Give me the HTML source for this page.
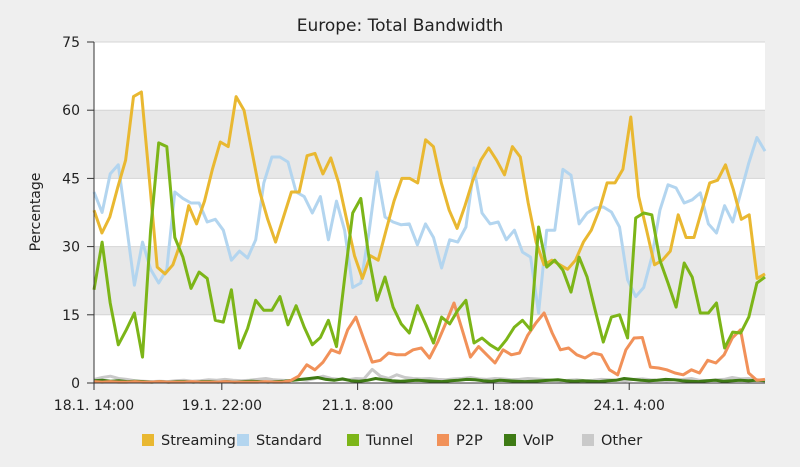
<!DOCTYPE html>
<html><head><meta charset="utf-8"><style>
body{margin:0;background:#efefef;width:800px;height:467px;overflow:hidden;font-family:"DejaVu Sans","Liberation Sans",sans-serif;}
svg{display:block}
</style></head><body>
<svg id="chart" width="800" height="467" xmlns="http://www.w3.org/2000/svg">
<rect x="0" y="0" width="800" height="467" fill="#efefef"/>
<text x="400" y="31" text-anchor="middle" font-size="17" fill="#222">Europe: Total Bandwidth</text>
<text transform="translate(40,212) rotate(-90)" text-anchor="middle" font-size="14" fill="#222">Percentage</text>
<g id="plot"></g>
<g id="legend"></g>
</svg>
<script>
const yTicks=[0,15,30,45,60,75];
const xTickLabels=["18.1. 14:00","19.1. 22:00","21.1. 8:00","22.1. 18:00","24.1. 4:00"];
const xTickHours=[0,32,66,100,134];
const totalHours=168;
const seriesNames=["Streaming","Standard","Tunnel","P2P","VoIP","Other"];
const streaming=[38,33,36.5,43,49,63,64,45,25.5,24,26,31,39,35,40,47,53,52,63,60,51,42,36,31,36.5,42,42,50,50.5,46,49.5,44,36,28,23,28,27,33.6,40,45,45,44,53.5,52,44,38,34,39,44.6,49,51.7,49,45.8,52,49.7,39.6,31,26,27,26,25,27,31,33.6,38,44,44,47,58.5,41,33.6,26,27,29,37,32,32,38,44,44.6,48,42.5,36,37,23,24];
const standard=[42,37.5,46,48,35,21.5,31,25,22,25,42,40.6,39.6,39.6,35.4,36,33.6,27,29,27.5,31.5,44,49.7,49.7,48.6,42,41,37.4,41,31.5,40,33.6,21,22,33,46.4,36.5,35.4,34.8,35,30.4,35,32,25.3,31.5,31,34.3,47.3,37.4,35,35.4,31.5,33.6,28.8,27.7,15.4,33.6,33.6,47,45.7,35,37.4,38.5,38.7,37.6,34.3,22.7,19,21,27.7,38,43.6,42.9,39.6,40.3,41.8,35,33,39,35.4,41.8,48.4,54,51];
const tunnel=[20.5,31,17.6,8.4,11.7,15.4,5.7,33.6,52.8,52,32,27.7,20.8,24.4,23,13.8,13.4,20.5,7.7,12,18.2,16,16,19,12.8,17,12.3,8.4,10,13.8,8,23,37.4,40.6,27.7,18.2,23.3,16.7,13,11,17,13,8.8,14.5,13,16,18.2,8.8,9.9,8.4,7.3,9.5,12.3,13.8,11.7,34.3,25.5,27,24.8,20,27.7,23.3,16,9,14.5,15,9.9,36.3,37.4,37,27,22,16.7,26.4,23.3,15.4,15.4,17.6,7.7,11.2,11,14.5,22,23.3];
const p2p=[0.3,0.2,0.3,0.2,0.2,0.3,0.2,0.2,0.3,0.2,0.2,0.2,0.3,0.2,0.2,0.2,0.3,0.2,0.2,0.2,0.2,0.3,0.2,0.2,0.5,1.5,4,2.9,4.6,7.3,6.6,11.7,14.5,9.5,4.6,5,6.6,6.2,6.2,7.3,7.7,5.5,9,13.2,17.6,11.7,5.7,8,6.2,4.4,7.3,6.2,6.6,10.5,13.2,15.4,11,7.3,7.7,6.2,5.5,6.6,6.2,2.9,1.8,7.3,9.9,10,3.5,3.3,2.9,2.2,1.8,2.9,2.2,5,4.4,6.2,9.9,11.7,2.2,0.6,0.8];
const voip=[0.5,0.6,0.4,0.5,0.3,0.4,0.3,0.2,0.3,0.2,0.3,0.3,0.2,0.3,0.3,0.2,0.3,0.2,0.3,0.4,0.3,0.2,0.3,0.4,0.6,0.8,1,1.2,0.8,0.6,0.9,0.5,0.4,0.6,1,0.7,0.5,0.4,0.5,0.6,0.5,0.4,0.3,0.5,0.6,0.8,0.7,0.5,0.4,0.6,0.5,0.4,0.3,0.4,0.5,0.6,0.7,0.5,0.4,0.5,0.4,0.3,0.5,0.6,1,0.8,0.6,0.5,0.6,0.8,0.7,0.5,0.4,0.3,0.5,0.6,0.4,0.5,0.6,0.5,0.6,0.5];
const other=[0.8,1.2,1.5,1,0.8,0.5,0.4,0.3,0.4,0.3,0.5,0.6,0.4,0.5,0.7,0.6,0.8,0.6,0.5,0.6,0.8,1,0.7,0.6,0.5,0.8,0.6,1,1.5,1,0.8,0.7,1,0.9,3,1.5,1,1.8,1.2,1,0.9,1,0.8,0.7,0.9,1,1.2,0.9,0.8,1,0.9,0.7,0.8,1,0.9,0.8,0.6,0.5,0.6,0.7,0.5,0.6,0.8,0.7,0.6,0.5,0.8,0.9,0.7,0.6,0.5,0.7,0.8,1,0.6,0.5,0.7,0.8,1.2,0.9,1,0.7,0.5];
const colors=["#e9b831","#b3d5ef","#7cb518","#f19159","#3e7a14","#c9c9c9"];

const X0=94,X1=765,Y0=383,Y1=42,YMAX=75;
const yScale=v=>Y0-(v/YMAX)*(Y0-Y1);
const hourScale=h=>X0+(h/totalHours)*(X1-X0);
const NS="http://www.w3.org/2000/svg";
const plot=document.getElementById('plot');
function mk(tag,attrs,parent){const e=document.createElementNS(NS,tag);for(const k in attrs)e.setAttribute(k,attrs[k]);(parent||plot).appendChild(e);return e;}

// plot area + bands
const bg=mk('rect',{x:X0,y:Y1,width:X1-X0,height:Y0-Y1,fill:'#fff'});


for(let i=0;i<yTicks.length-1;i++){
  if(i%2===1){
    const b=mk('rect',{x:X0,y:yScale(yTicks[i+1]),width:X1-X0,height:yScale(yTicks[i])-yScale(yTicks[i+1]),fill:'#e8e8e8'});
    
    
  }
}
yTicks.forEach(t=>{
  const g=mk('line',{x1:X0,x2:X1,y1:yScale(t),y2:yScale(t),stroke:'#d4d4d4','stroke-width':1});
  
  
  const tk=mk('line',{x1:X0-7,x2:X0,y1:yScale(t),y2:yScale(t),stroke:'#333','stroke-width':1});
  
  
  const lb=mk('text',{x:X0-14,y:yScale(t)+5,'text-anchor':'end','font-size':14,fill:'#222'});
  lb.textContent=t;
  
  
});
xTickHours.forEach((h,i)=>{
  const tk=mk('line',{x1:hourScale(h),x2:hourScale(h),y1:Y0,y2:Y0+7,stroke:'#333','stroke-width':1});
  
  
  const lb=mk('text',{x:hourScale(h),y:Y0+27,'text-anchor':'middle','font-size':14,fill:'#222'});
  lb.textContent=xTickLabels[i];
  
  
});

const data=[streaming,standard,tunnel,p2p,voip,other];
const order=[5,4,3,1,0,2];
order.forEach(si=>{
  const arr=data[si];
  const pts=arr.map((v,i)=>(X0+i*(X1-X0)/(arr.length-1)).toFixed(1)+','+yScale(v).toFixed(1)).join(' ');
  const pl=mk('polyline',{points:pts,fill:'none',stroke:colors[si],'stroke-width':3,'stroke-linejoin':'round'});
  
  
});
const ax=mk('line',{x1:X0,x2:X0,y1:Y1,y2:Y0,stroke:'#333','stroke-width':1});


const axx=mk('line',{x1:X0,x2:X1,y1:Y0,y2:Y0,stroke:'#333','stroke-width':1});



// legend
const leg=document.getElementById('legend');
const legX=[142,237,347,437,504,582];
seriesNames.forEach((n,i)=>{
  const g=mk('g',{},leg);
  
  
  mk('rect',{x:legX[i],y:434,width:12,height:12,fill:colors[i]},g);
  const t=mk('text',{x:legX[i]+19,y:445,'font-size':14.5,fill:'#222'},g);
  t.textContent=n;
});
</script>
</body></html>
